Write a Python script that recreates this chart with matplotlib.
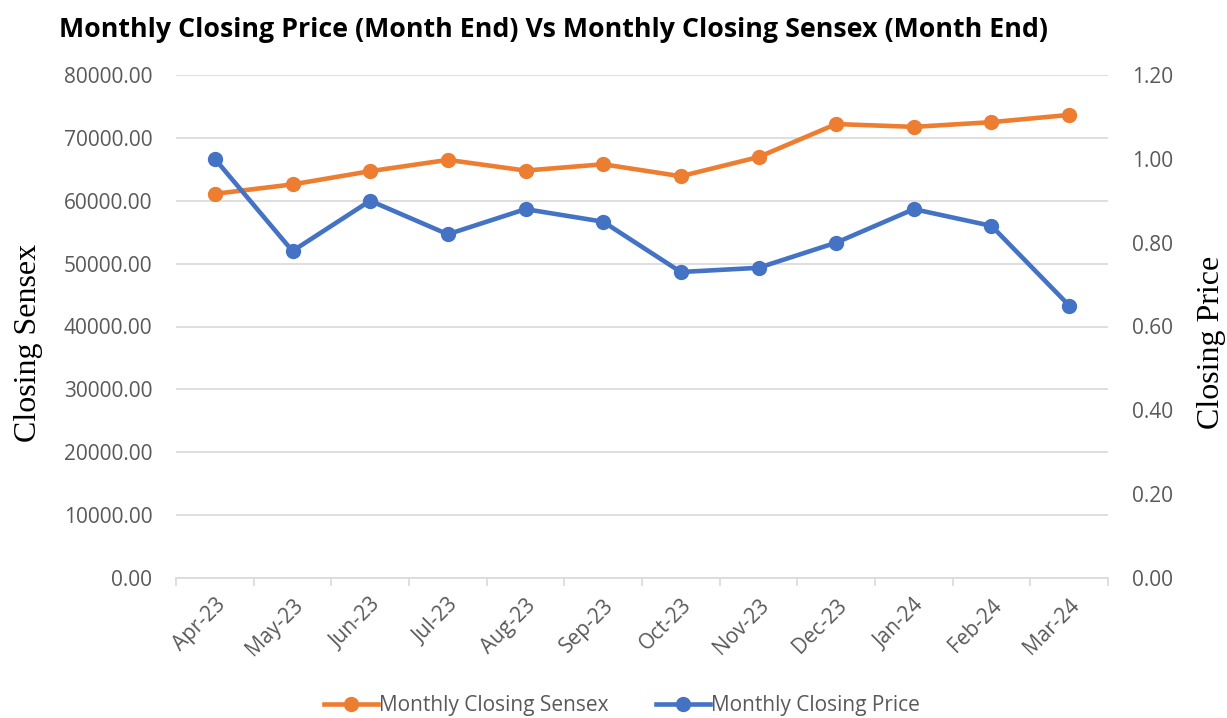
import matplotlib
matplotlib.use("Agg")
import matplotlib.pyplot as plt
import numpy as np
from matplotlib.lines import Line2D

months = ["Apr-23", "May-23", "Jun-23", "Jul-23", "Aug-23", "Sep-23",
          "Oct-23", "Nov-23", "Dec-23", "Jan-24", "Feb-24", "Mar-24"]
sensex = [61100, 62600, 64700, 66500, 64800, 65800, 63900, 66950, 72200, 71750, 72500, 73650]
price = [1.00, 0.78, 0.90, 0.82, 0.88, 0.85, 0.73, 0.74, 0.80, 0.88, 0.84, 0.65]
left_ticks = [0, 10000, 20000, 30000, 40000, 50000, 60000, 70000, 80000]
right_ticks = [0, 0.2, 0.4, 0.6, 0.8, 1.0, 1.2]

orange = "#ED7D31"
blue = "#4472C4"
gray_txt = "#595959"
grid_c = "#D9D9D9"
tick_font = "Open Sans"
fs = 15

fig = plt.figure(figsize=(12.27, 7.18), dpi=100)
ax = fig.add_axes([176/1227, 1 - 578/718, (1108-176)/1227, (578-75)/718])
ax2 = ax.twinx()

x = np.arange(len(months))
ax.plot(x, sensex, color=orange, lw=3.3, marker="o", ms=10, zorder=3)
ax2.plot(x, price, color=blue, lw=3.3, marker="o", ms=10, zorder=3)

ax.set_ylim(0, 80000)
ax2.set_ylim(0, 1.2)
ax.set_xlim(-0.5, len(months) - 0.5)
ax.set_yticks(left_ticks)
ax.set_yticklabels([f"{v:.2f}" for v in left_ticks], fontsize=fs, color=gray_txt, family=tick_font)
ax2.set_yticks(right_ticks)
ax2.set_yticklabels([f"{v:.2f}" for v in right_ticks], fontsize=fs, color=gray_txt, family=tick_font)
ax.yaxis.grid(True, color=grid_c, lw=1.2)
ax.set_axisbelow(True)

ax.set_xticks(x)
ax.set_xticklabels(months, rotation=45, ha="right", rotation_mode="anchor",
                   fontsize=fs, color=gray_txt, family=tick_font)
ax.tick_params(axis="x", which="major", length=0, pad=12)
ax.set_xticks(np.arange(-0.5, len(months)), minor=True)
ax.tick_params(axis="x", which="minor", length=6, color=grid_c, width=1.2)
ax.tick_params(axis="y", length=0, pad=17)
ax2.tick_params(axis="y", length=0, pad=17)

for a in (ax, ax2):
    for s in ("top", "left", "right", "bottom"):
        a.spines[s].set_visible(False)
ax.spines["bottom"].set_visible(True)
ax.spines["bottom"].set_color(grid_c)
ax.spines["bottom"].set_linewidth(1.2)

ax.set_ylabel("Closing Sensex", fontsize=23, family="Liberation Serif", color="black")
ax2.set_ylabel("Closing Price", fontsize=23, family="Liberation Serif", color="black")
ax.yaxis.set_label_coords(-0.1427, 0.468)
ax2.yaxis.set_label_coords(1.0955, 0.468)

fig.text(59/1227, 1 - 30/718, "Monthly Closing Price (Month End) Vs Monthly Closing Sensex (Month End)",
         fontsize=19.3, fontweight="bold", family="Open Sans", va="center", ha="left")

handles = [Line2D([0], [0], color=orange, lw=3.3, marker="o", ms=10),
           Line2D([0], [0], color=blue, lw=3.3, marker="o", ms=10)]
leg = fig.legend(handles, ["Monthly Closing Sensex", "Monthly Closing Price"],
                 loc="center", bbox_to_anchor=(622/1227, 1 - 706/718), ncol=2, frameon=False,
                 prop={"family": tick_font, "size": fs}, handlelength=2.6, handletextpad=0.05,
                 columnspacing=2.3)
for t in leg.get_texts():
    t.set_color(gray_txt)

fig.savefig("out.png", dpi=100)
